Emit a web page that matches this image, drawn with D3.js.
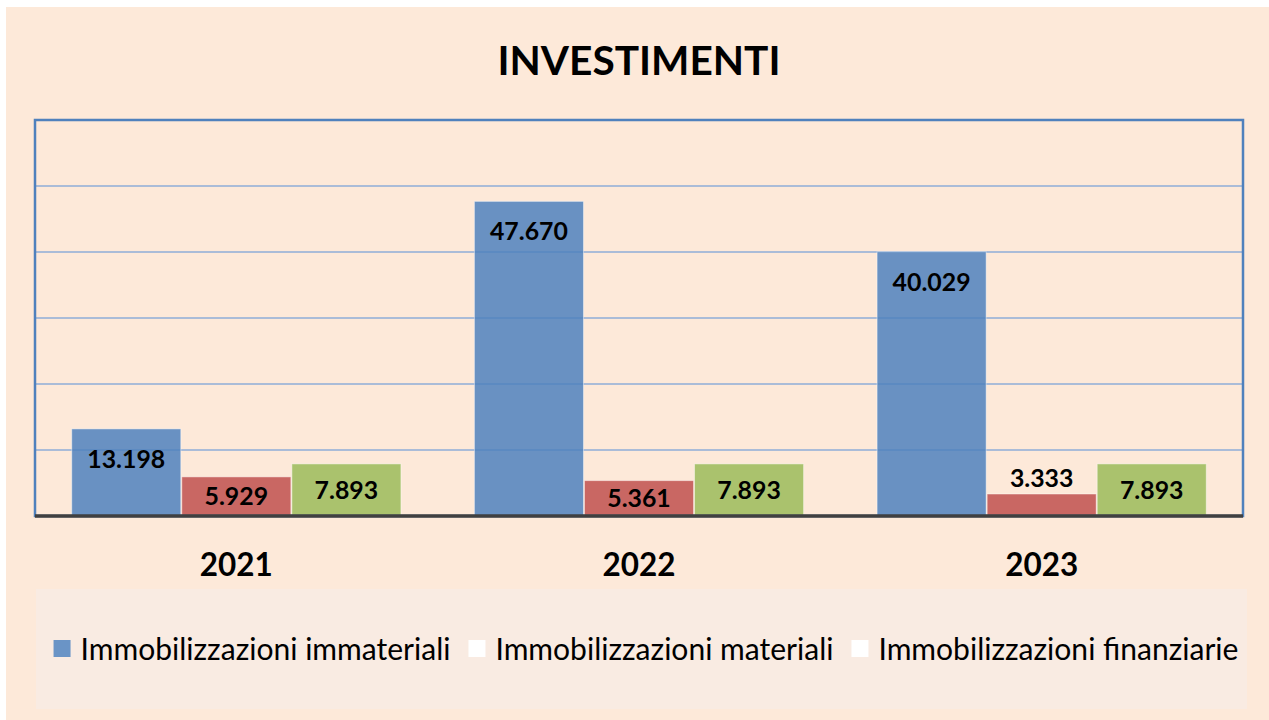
<!DOCTYPE html>
<html>
<head>
<meta charset="utf-8">
<script src="https://cdn.jsdelivr.net/npm/d3@7"></script>
<style>
  html, body { margin: 0; padding: 0; background: #fff; }
  svg { display: block; font-family: Lato, "Open Sans", sans-serif; }
</style>
</head>
<body>
<svg id="chart" width="1269" height="720"></svg>
<script>
// data
const years = ['2021', '2022', '2023'];
const seriesNames = ['Immobilizzazioni immateriali', 'Immobilizzazioni materiali', 'Immobilizzazioni finanziarie'];
const immateriali = [13198, 47670, 40029];
const materiali = [5929, 5361, 3333];
const finanziarie = [7893, 7893, 7893];
const yTicks = [10000, 20000, 30000, 40000, 50000];
const yMax = 60000;

const barColors = ['#4F81BD', '#C0504D', '#9BBB59'];
const legendColors = ['#6A94C6', '#ffffff', '#ffffff'];

const svg = d3.select('#chart');
const fmt = v => d3.format(',')(v).replace(/,/g, '.');

// fit a text element to a target width by adjusting font-size
function fitWidth(sel, target) {
  const node = sel.node();
  const base = parseFloat(sel.attr('font-size'));
  const w = node.getComputedTextLength();
  if (w > 0) sel.attr('font-size', base * target / w);
  return sel;
}

// backgrounds
svg.append('rect').attr('x', 6).attr('y', 7).attr('width', 1263).attr('height', 713).attr('fill', '#FDE9D9');

// title
fitWidth(svg.append('text').attr('x', 639).attr('y', 75).attr('text-anchor', 'middle')
  .attr('font-weight', 'bold').attr('font-size', 40).text('INVESTIMENTI'), 283);

const plot = { left: 35, right: 1243, top: 120, bottom: 516 };

const x0 = d3.scaleBand().domain(years).range([plot.left, plot.right]).paddingInner(0.18).paddingOuter(0.09);
const x1 = d3.scaleBand().domain(d3.range(3)).range([0, x0.bandwidth()]).padding(0);
const y = d3.scaleLinear().domain([0, yMax]).range([plot.bottom, plot.top]);

// gridlines
svg.append('g').selectAll('line').data(yTicks).join('line')
  .attr('x1', plot.left).attr('x2', plot.right)
  .attr('y1', d => y(d)).attr('y2', d => y(d))
  .attr('stroke', '#AABCD8').attr('stroke-width', 2);

const rows = years.map((yr, i) => ({ year: yr, values: [immateriali[i], materiali[i], finanziarie[i]] }));

const groups = svg.append('g').selectAll('g').data(rows).join('g')
  .attr('transform', d => `translate(${x0(d.year)},0)`);

groups.selectAll('rect').data(d => d.values.map((v, k) => ({ v, k }))).join('rect')
  .attr('x', d => x1(d.k) + 0.5).attr('width', x1.bandwidth() - 1)
  .attr('y', d => y(d.v)).attr('height', d => y(0) - y(d.v))
  .attr('fill', d => barColors[d.k]).attr('fill-opacity', 0.85)
  .attr('stroke', '#ffffff').attr('stroke-opacity', 0.45).attr('stroke-width', 1);

// data labels: inside end, or above when the bar is too short
groups.selectAll('text').data(d => d.values.map((v, k) => ({ v, k }))).join('text')
  .attr('x', d => x1(d.k) + x1.bandwidth() / 2)
  .attr('y', d => {
    const top = y(d.v), h = y(0) - top;
    return h >= 30 ? top + Math.min(30, h / 2) : top - 16;
  })
  .attr('dy', '0.36em')
  .attr('text-anchor', 'middle').attr('font-weight', 'bold').attr('font-size', 28)
  .attr('fill', '#000').text(d => fmt(d.v));

// plot border
svg.append('rect').attr('x', plot.left).attr('y', plot.top)
  .attr('width', plot.right - plot.left).attr('height', plot.bottom - plot.top)
  .attr('fill', 'none').attr('stroke', '#4F81BD').attr('stroke-width', 2.5);

// category axis
const xAxis = svg.append('g').attr('transform', `translate(0,${plot.bottom})`)
  .call(d3.axisBottom(x0).tickSize(0).tickPadding(38));
xAxis.select('.domain').attr('d', `M${plot.left},0H${plot.right}`).attr('stroke', '#404040').attr('stroke-width', 3.5);
xAxis.selectAll('text').attr('font-family', 'Lato, "Open Sans", sans-serif')
  .attr('font-size', 36).attr('font-weight', 'bold').attr('fill', '#000');

// rescale data and year labels to reference widths
const probe = groups.select('text');
const probeW = probe.node().getComputedTextLength();
const labelSize = 28 * 78 / probeW;
groups.selectAll('text').attr('font-size', labelSize);
const yearText = xAxis.select('.tick text');
const yearSize = 36 * 73 / yearText.node().getComputedTextLength();
xAxis.selectAll('text').attr('font-size', yearSize);

// legend
svg.append('rect').attr('x', 36).attr('y', 589).attr('width', 1211).attr('height', 120).attr('fill', '#F9EBE2');
const legend = svg.append('g');
const items = legend.selectAll('g').data(seriesNames).join('g');
items.append('rect').attr('width', 17).attr('height', 17).attr('y', -9)
  .attr('fill', (d, i) => legendColors[i]);
items.append('text').attr('x', 27).attr('dy', '0.36em').attr('font-size', 28).attr('fill', '#000').text(d => d);
const first = items.select('text');
const legSize = 28 * 370 / first.node().getComputedTextLength();
items.selectAll('text').attr('font-size', legSize);
let cx = 0;
const offsets = [];
items.each(function () {
  offsets.push(cx);
  cx += 27 + d3.select(this).select('text').node().getComputedTextLength() + 18;
});
const total = cx - 18;
const startX = 55 + (1237 - 55 - total) / 2;
items.attr('transform', (d, i) => `translate(${startX + offsets[i]},649)`);
</script>
</body>
</html>
